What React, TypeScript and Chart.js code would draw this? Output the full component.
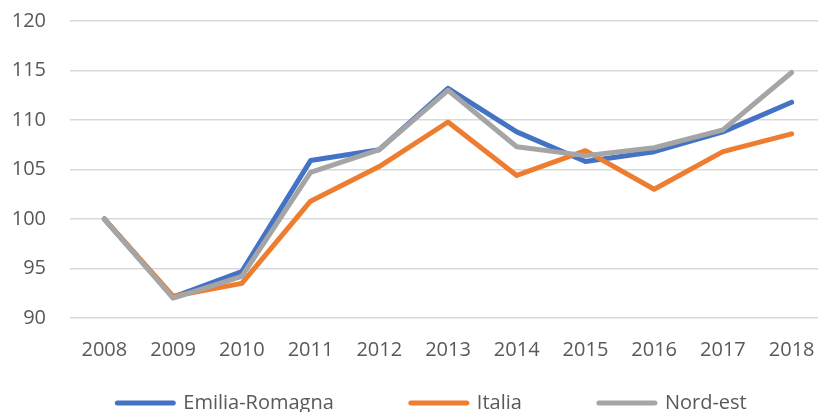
import React, { useEffect, useRef } from "react";
import { Chart, registerables } from "chart.js";

Chart.register(...registerables);

const years = ["2008", "2009", "2010", "2011", "2012", "2013", "2014", "2015", "2016", "2017", "2018"];
const emiliaRomagna = [100, 92.1, 94.7, 105.9, 107.0, 113.2, 108.8, 105.8, 106.8, 108.8, 111.8];
const italia = [100, 92.2, 93.5, 101.8, 105.3, 109.8, 104.4, 106.9, 103.0, 106.8, 108.6];
const nordEst = [100, 92.0, 94.2, 104.7, 107.0, 113.0, 107.3, 106.4, 107.2, 109.0, 114.8];

const W = 826;
const H = 469;

export default function App() {
  const ref = useRef<HTMLCanvasElement | null>(null);
  useEffect(() => {
    if (!ref.current) return;
    const font = { family: "'Open Sans', sans-serif", size: 20 };
    const legendShift = {
      id: "legendShift",
      afterLayout(chart: any) {
        const lg = chart.legend;
        if (!lg) return;
        const dx = 19;
        const h = lg.height;
        lg.left += dx;
        lg.right += dx;
        lg.top = 316;
        lg.bottom = 316 + h;
      },
    };
    const chart = new Chart(ref.current, {
      type: "line",
      data: {
        labels: years,
        datasets: [
          { label: "Emilia-Romagna", data: emiliaRomagna, borderColor: "#4472C4", backgroundColor: "#4472C4", order: 3 },
          { label: "Italia", data: italia, borderColor: "#ED7D31", backgroundColor: "#ED7D31", order: 2 },
          { label: "Nord-est", data: nordEst, borderColor: "#A5A5A5", backgroundColor: "#A5A5A5", order: 1 },
        ].map((d) => ({
          ...d,
          borderWidth: 5,
          pointRadius: 0,
          tension: 0,
          borderCapStyle: "round" as const,
          borderJoinStyle: "round" as const,
        })),
      },
      options: {
        responsive: false,
        animation: false,
        layout: { padding: { top: 21, left: 0, right: 0, bottom: 0 } },
        plugins: {
          tooltip: { enabled: false },
          legend: {
            position: "bottom",
            labels: {
              font,
              color: "#595959",
              boxWidth: 56,
              boxHeight: 0,
              padding: 77,
              sort: (a: any, b: any) => a.datasetIndex - b.datasetIndex,
            },
          },
        },
        scales: {
          x: {
            offset: true,
            grid: { display: false, drawTicks: false },
            border: { display: false },
            ticks: { font, color: "#595959", padding: 20, maxRotation: 0 },
            afterFit: (s: any) => {
              s.height = 44;
              s.paddingLeft = 0;
              s.paddingRight = 0;
            },
          },
          y: {
            min: 90,
            max: 120,
            ticks: { stepSize: 5, font, color: "#595959", padding: 24 },
            grid: { color: "#D9D9D9", lineWidth: 1.5, drawTicks: false },
            border: { display: false },
            afterFit: (s: any) => {
              s.width = 70;
              s.paddingTop = 0;
              s.paddingBottom = 0;
            },
          },
        },
      },
      plugins: [legendShift],
    });
    return () => chart.destroy();
  }, []);
  return (
    <div style={{ position: "fixed", left: 0, top: 0, width: W, height: H, background: "#fff" }}>
      <canvas ref={ref} width={W} height={H} style={{ display: "block" }} />
    </div>
  );
}
